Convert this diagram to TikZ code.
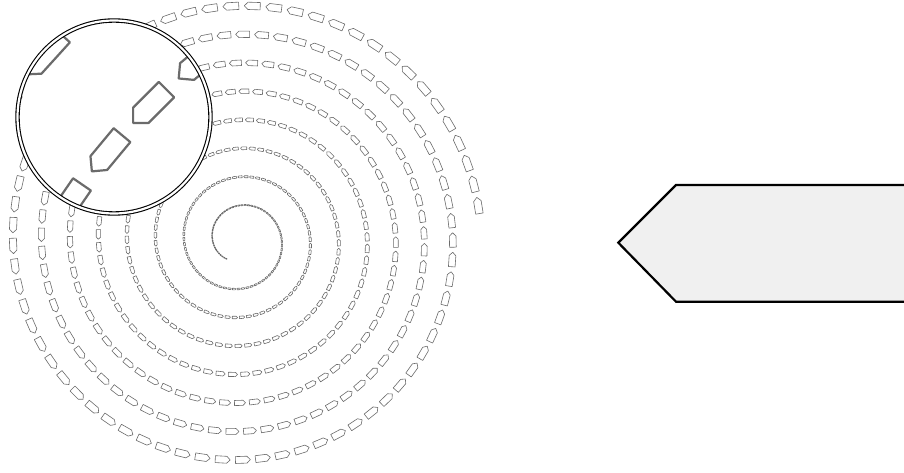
\documentclass[tikz,border=0pt]{standalone}
\definecolor{pen}{gray}{0.42}
\definecolor{boxfill}{gray}{0.94}
\tikzset{
  pencilline/.style={draw=pen, fill=white, line width=0.6pt, line join=round},
  bigpencil/.style={draw=black, fill=boxfill, line width=2.2pt, line join=miter},
  lensring/.style={draw=black, double=white, line width=1.1pt, double distance=2.2pt}
}
\newcommand{\pencilspiral}[1]{%
  \foreach \i in {0,...,523} {
    \pgfmathsetmacro{\t}{\i*5.25/360 - 0.15}
    \pgfmathsetmacro{\r}{27.5+28.5*\t}
    \pgfmathsetmacro{\a}{180-360*\t}
    \pgfmathsetmacro{\d}{\a+90+atan(28.5/(6.2832*\r))}
    \pgfmathsetmacro{\s}{0.068*\r}
    \pgfmathsetmacro{\px}{240+\r*cos(\a)}
    \pgfmathsetmacro{\py}{232+\r*sin(\a)}
    \begin{scope}[shift={(\px,\py)}, rotate=\d, scale=\s]
      \path[pencilline, #1] (-0.5,-0.23) -- (0.27,-0.23) -- (0.5,0) -- (0.27,0.23) -- (-0.5,0.23) -- cycle;
    \end{scope}
  }%
}
\begin{document}
\begin{tikzpicture}[x=1pt,y=1pt]
\useasboundingbox (0,0) rectangle (904,472);
% spiral of pencils
\pencilspiral{}
% magnifying lens (x4)
\coordinate (lenscentre) at (114,355);
\fill[white] (lenscentre) circle[radius=96.5];
\begin{scope}
  \clip (lenscentre) circle[radius=96.5];
  \begin{scope}[shift={(lenscentre)}, scale=4, shift={(-111.5,-355.3)}]
    \pencilspiral{line width=2.2pt}
  \end{scope}
\end{scope}
\draw[lensring] (lenscentre) circle[radius=96.5];
% big pencil on the right
\path[bigpencil] (618.3,229.3) -- (676,287) -- (920,287) -- (920,170.3) -- (676,170.3) -- cycle;
\end{tikzpicture}
\end{document}
